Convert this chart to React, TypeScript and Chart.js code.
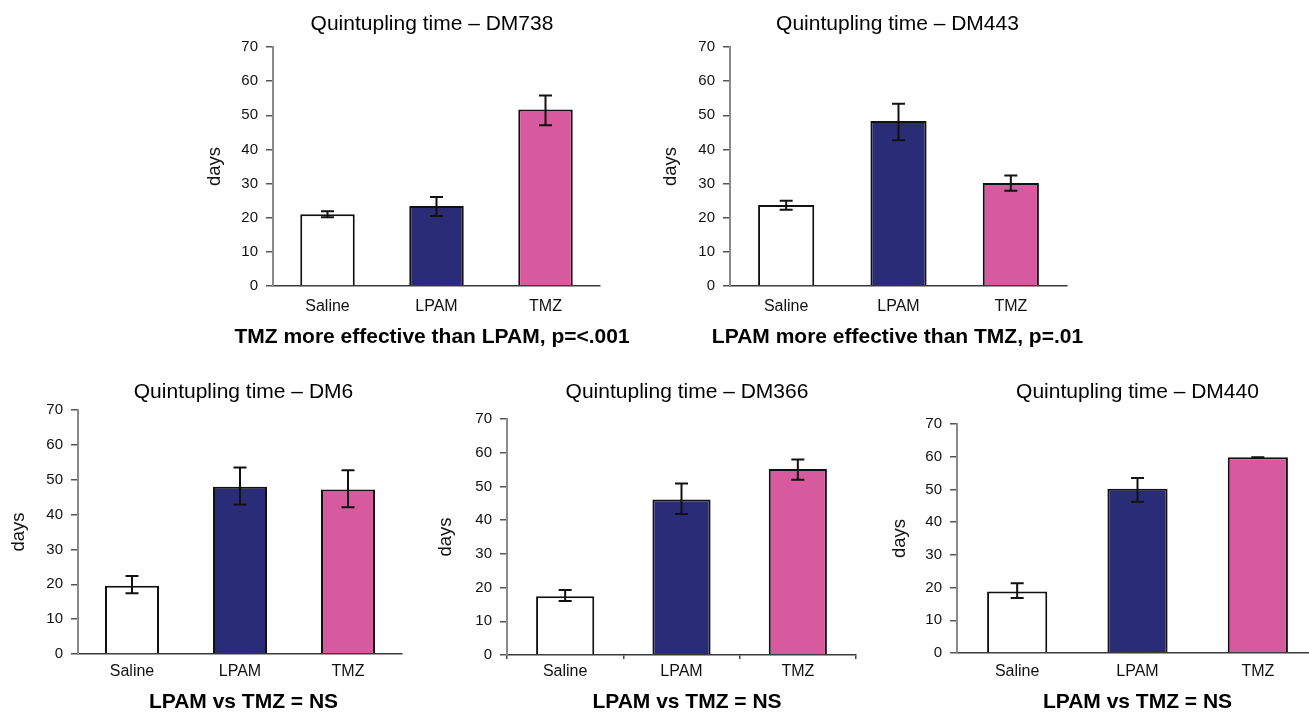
import React, { useEffect, useRef } from 'react';
import { Chart, registerables } from 'chart.js';

Chart.register(...registerables);

const FONT = '"Liberation Sans", Arial, Helvetica, sans-serif';
Chart.defaults.font.family = FONT;

// ---------- data ----------
const categories = ['Saline', 'LPAM', 'TMZ'];

const dm738Means = [21.0, 23.4, 51.7];
const dm738Low = [20.1, 20.5, 47.1];
const dm738High = [21.9, 26.1, 55.8];

const dm443Means = [23.7, 48.3, 30.2];
const dm443Low = [22.3, 42.7, 27.9];
const dm443High = [25.0, 53.4, 32.4];

const dm6Means = [19.6, 48.0, 47.2];
const dm6Low = [17.4, 42.9, 42.1];
const dm6High = [22.4, 53.5, 52.7];

const dm366Means = [17.4, 46.1, 55.2];
const dm366Low = [16.0, 41.8, 52.0];
const dm366High = [19.3, 50.9, 58.0];

const dm440Means = [18.8, 50.2, 59.8];
const dm440Low = [16.8, 46.2, 59.8];
const dm440High = [21.3, 53.5, 59.8];

const panelTitles = [
  'Quintupling time – DM738',
  'Quintupling time – DM443',
  'Quintupling time – DM6',
  'Quintupling time – DM366',
  'Quintupling time – DM440',
];
const panelSubtitles = [
  'TMZ more effective than LPAM, p=<.001',
  'LPAM more effective than TMZ, p=.01',
  'LPAM vs TMZ = NS',
  'LPAM vs TMZ = NS',
  'LPAM vs TMZ = NS',
];
const yAxisTitle = 'days';
const yMin = 0;
const yMax = 70;
const yStep = 10;

// ---------- styles ----------
const barColors = ['#ffffff', '#2b2c77', '#d85a9e'];

// geometry of each panel (pixel layout only)
const geoms = [
  { plotLeft: 273, plotRight: 600, plotTop: 47, plotBottom: 286, titleY: 24.5, centerX: 432, xLab: 20.5, subY: 337.5, daysX: 215, xTicks: false },
  { plotLeft: 730, plotRight: 1067, plotTop: 47, plotBottom: 286, titleY: 24.5, centerX: 897.5, xLab: 21, subY: 337.5, daysX: 671, xTicks: false },
  { plotLeft: 78, plotRight: 402, plotTop: 410, plotBottom: 654, titleY: 392.5, centerX: 243.5, xLab: 17.5, subY: 702, daysX: 19, xTicks: false },
  { plotLeft: 507, plotRight: 856, plotTop: 419, plotBottom: 655, titleY: 392.5, centerX: 687, xLab: 17, subY: 702, daysX: 445.5, xTicks: true },
  { plotLeft: 957, plotRight: 1318, plotTop: 424, plotBottom: 653, titleY: 392.5, centerX: 1137.5, xLab: 19, subY: 702, daysX: 900, xTicks: false },
];

const panelsData = [
  { means: dm738Means, low: dm738Low, high: dm738High },
  { means: dm443Means, low: dm443Low, high: dm443High },
  { means: dm6Means, low: dm6Low, high: dm6High },
  { means: dm366Means, low: dm366Low, high: dm366High },
  { means: dm440Means, low: dm440Low, high: dm440High },
];

const TITLE_SIZE = 21;
const TITLE_LH = TITLE_SIZE * 1.2;
const YTICK_SIZE = 15;
const XTICK_SIZE = 16;
const XTICK_LH = XTICK_SIZE * 1.2;
const DAYS_SIZE = 18.5;
const DAYS_LH = DAYS_SIZE * 1.2;
const XH = 30;

function computeBox(g: any) {
  const wDesired = g.plotLeft - g.daysX + DAYS_LH / 2 + 2;
  const cl = Math.round(g.plotLeft - wDesired);
  const W = g.plotLeft - cl;
  const daysPad = g.daysX - cl - DAYS_LH / 2;
  const cr = Math.round(2 * g.centerX - cl);
  const cw = cr - cl;
  const R = cr - g.plotRight;
  const ct = Math.floor(g.titleY - TITLE_LH / 2 - 4);
  const tPadTop = g.titleY - TITLE_LH / 2 - ct;
  const tPadBottom = g.plotTop - ct - tPadTop - TITLE_LH;
  const ch = Math.ceil(g.subY + TITLE_LH / 2 + 4 - ct);
  const sPadTop = g.subY - g.plotBottom - XH - TITLE_LH / 2;
  const subH = ct + ch - XH - g.plotBottom;
  const sPadBottom = subH - sPadTop - TITLE_LH;
  return { cl, ct, cw, ch, W, R, daysPad, tPadTop, tPadBottom, sPadTop, sPadBottom };
}

function makeErrorBarPlugin(low: number[], high: number[]) {
  return {
    id: 'errorBars',
    afterDatasetsDraw(chart: any) {
      const meta = chart.getDatasetMeta(0);
      const y = chart.scales.y;
      const ctx = chart.ctx;
      ctx.save();
      ctx.strokeStyle = '#111';
      ctx.lineWidth = 2;
      meta.data.forEach((bar: any, i: number) => {
        const x = bar.x;
        const yl = y.getPixelForValue(low[i]);
        const yh = y.getPixelForValue(high[i]);
        const cap = 6.5;
        ctx.beginPath();
        ctx.moveTo(x, yl);
        ctx.lineTo(x, yh);
        ctx.moveTo(x - cap, yh);
        ctx.lineTo(x + cap, yh);
        ctx.moveTo(x - cap, yl);
        ctx.lineTo(x + cap, yl);
        ctx.stroke();
      });
      ctx.restore();
    },
  };
}

function BarPanel({ idx }: { idx: number }) {
  const ref = useRef<HTMLCanvasElement>(null);
  const g = geoms[idx];
  const b = computeBox(g);
  const d = panelsData[idx];

  useEffect(() => {
    if (!ref.current) return;
    const chart = new Chart(ref.current, {
      type: 'bar',
      data: {
        labels: categories,
        datasets: [
          {
            data: d.means,
            backgroundColor: barColors,
            borderColor: '#111',
            borderWidth: 2,
            barPercentage: 0.5,
            categoryPercentage: 1,
          },
        ],
      },
      options: {
        responsive: false,
        animation: false,
        devicePixelRatio: 1,
        layout: { padding: 0 },
        plugins: {
          legend: { display: false },
          tooltip: { enabled: false },
          title: {
            display: true,
            text: panelTitles[idx],
            fullSize: true,
            color: '#000',
            font: { size: TITLE_SIZE, weight: 'normal', family: FONT, lineHeight: 1.2 },
            padding: { top: b.tPadTop, bottom: b.tPadBottom },
          },
          subtitle: {
            display: true,
            position: 'bottom',
            text: panelSubtitles[idx],
            fullSize: true,
            color: '#000',
            font: { size: TITLE_SIZE, weight: 'bold', family: FONT, lineHeight: 1.2 },
            padding: { top: b.sPadTop, bottom: b.sPadBottom },
          },
        },
        scales: {
          x: {
            grid: {
              display: true,
              drawOnChartArea: false,
              drawTicks: g.xTicks,
              tickLength: 4,
              color: '#444',
              lineWidth: 1.5,
            },
            border: { display: true, color: '#3a3a3a', width: 1.5 },
            ticks: {
              color: '#111',
              font: { size: XTICK_SIZE, family: FONT, lineHeight: 1.2 },
              padding: g.xLab - XTICK_LH / 2 - (g.xTicks ? 4 : 0),
              maxRotation: 0,
              autoSkip: false,
            },
            afterFit: (s: any) => {
              s.height = XH;
            },
          },
          y: {
            min: yMin,
            max: yMax,
            grid: {
              display: true,
              drawOnChartArea: false,
              drawTicks: true,
              tickLength: 7,
              color: '#555',
              lineWidth: 1.5,
            },
            border: { display: true, color: '#8a8a8a', width: 2 },
            ticks: {
              stepSize: yStep,
              color: '#111',
              font: { size: YTICK_SIZE, family: FONT, lineHeight: 1.2 },
              padding: 8,
            },
            title: {
              display: true,
              text: yAxisTitle,
              color: '#111',
              font: { size: DAYS_SIZE, family: FONT, lineHeight: 1.2 },
              padding: { top: b.daysPad, bottom: 0 },
            },
            afterFit: (s: any) => {
              s.width = b.W;
            },
          },
          ySpacer: {
            type: 'linear',
            position: 'right',
            display: true,
            grid: { display: false },
            border: { display: false },
            ticks: { display: false },
            afterFit: (s: any) => {
              s.width = b.R;
            },
          },
        },
      } as any,
      plugins: [makeErrorBarPlugin(d.low, d.high)],
    });
    return () => chart.destroy();
  }, [idx]);

  return (
    <div style={{ position: 'absolute', left: b.cl, top: b.ct, width: b.cw, height: b.ch }}>
      <canvas
        ref={ref}
        width={b.cw}
        height={b.ch}
        style={{ display: 'block', width: b.cw, height: b.ch }}
      />
    </div>
  );
}

export default function App() {
  return (
    <div
      style={{
        position: 'fixed',
        left: 0,
        top: 0,
        width: 1309,
        height: 713,
        overflow: 'hidden',
        background: '#fff',
      }}
    >
      {geoms.map((_, i) => (
        <BarPanel key={i} idx={i} />
      ))}
    </div>
  );
}
